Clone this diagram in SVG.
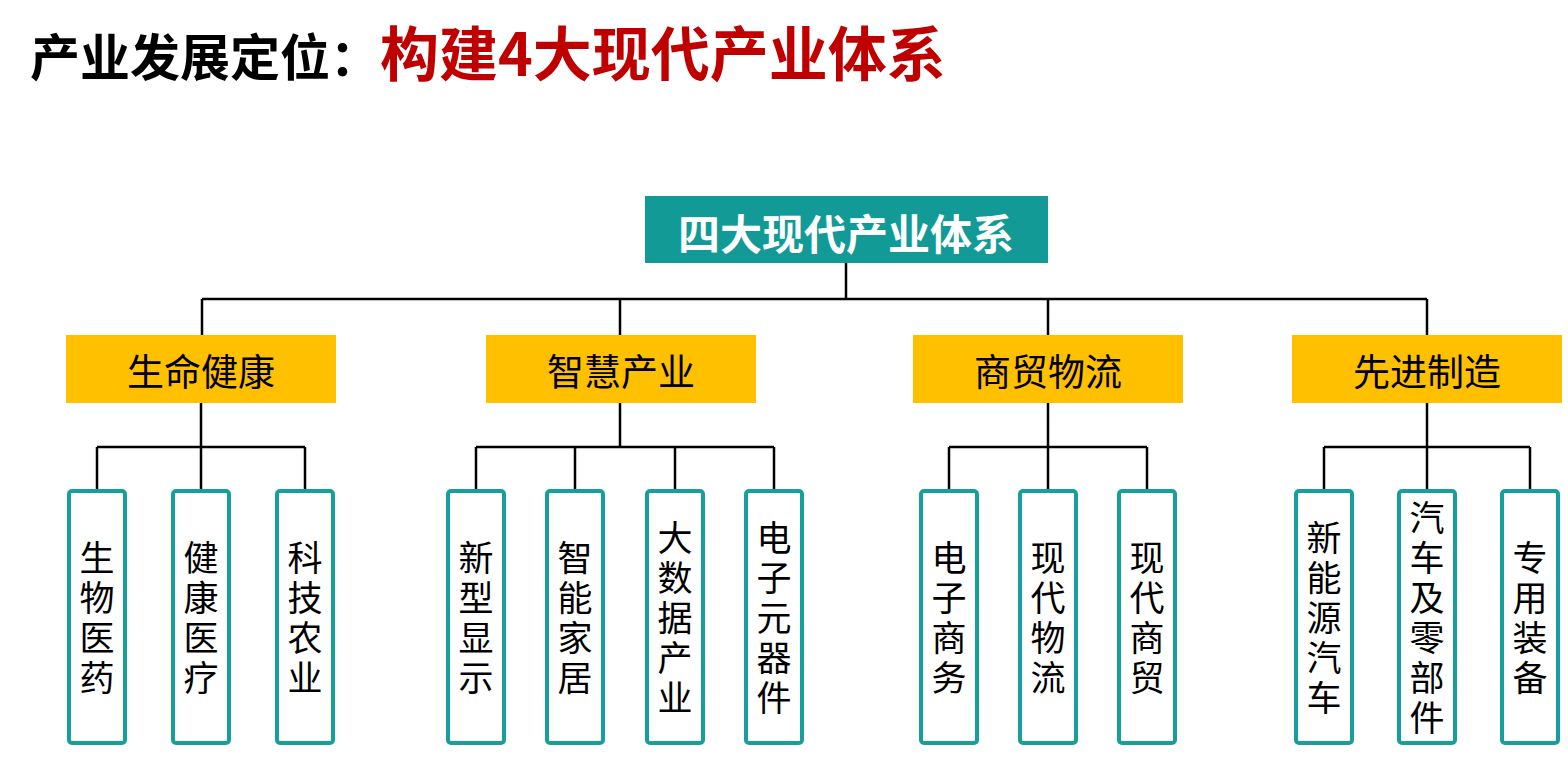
<svg xmlns="http://www.w3.org/2000/svg" width="1568" height="758" viewBox="0 0 1568 758">
<style>
.t{font-family:"Noto Sans CJK SC","Liberation Sans",sans-serif;}
.title{font-weight:700;}
.root{fill:#129A97;}
.roott{fill:#fff;font-size:42px;font-weight:700;}
.cat{fill:#FFC000;}
.catt{fill:#000;font-size:37px;}
.leaf{fill:#fff;stroke:#17A09B;stroke-width:4;}
.leaft{fill:#000;font-size:35px;writing-mode:vertical-rl;letter-spacing:5px;text-anchor:middle;}
.c{stroke:#000;stroke-width:2.5;fill:none;}
</style>
<rect width="1568" height="758" fill="#fff"/>
<text class="t title" x="30" y="76"><tspan font-size="50" fill="#000">产业发展定位：</tspan><tspan font-size="59" fill="#C00000">构建4大现代产业体系</tspan></text>

<g id="connectors">
<path class="c" d="M846 263V299M202 299H1427M202 299V335M620 299V335M1048 299V335M1427 299V335"/>
<path class="c" d="M201 403V447M97 447H305M97 447V489M201 447V489M305 447V489"/>
<path class="c" d="M620 403V447M476 447H774M476 447V489M575 447V489M675 447V489M774 447V489"/>
<path class="c" d="M1048 403V447M949 447H1147M949 447V489M1048 447V489M1147 447V489"/>
<path class="c" d="M1427 403V447M1324 447H1530M1324 447V489M1427 447V489M1530 447V489"/>
</g>

<g id="root"><rect class="root" x="645" y="196" width="403" height="67"/><text class="t roott" x="846" y="231" text-anchor="middle" dominant-baseline="central">四大现代产业体系</text></g>

<g id="cat1"><rect class="cat" x="66" y="335" width="270" height="68"/><text class="t catt" x="201" y="370" text-anchor="middle" dominant-baseline="central">生命健康</text></g>
<g id="cat2"><rect class="cat" x="486" y="335" width="270" height="68"/><text class="t catt" x="621" y="370" text-anchor="middle" dominant-baseline="central">智慧产业</text></g>
<g id="cat3"><rect class="cat" x="913" y="335" width="270" height="68"/><text class="t catt" x="1048" y="370" text-anchor="middle" dominant-baseline="central">商贸物流</text></g>
<g id="cat4"><rect class="cat" x="1292" y="335" width="270" height="68"/><text class="t catt" x="1427" y="370" text-anchor="middle" dominant-baseline="central">先进制造</text></g>

<g id="leaf1"><rect class="leaf" x="69" y="491" width="56" height="252" rx="3"/><text class="t leaft" x="97" y="620">生物医药</text></g>
<g id="leaf2"><rect class="leaf" x="173" y="491" width="56" height="252" rx="3"/><text class="t leaft" x="201" y="620">健康医疗</text></g>
<g id="leaf3"><rect class="leaf" x="277" y="491" width="56" height="252" rx="3"/><text class="t leaft" x="305" y="620">科技农业</text></g>

<g id="leaf4"><rect class="leaf" x="448" y="491" width="56" height="252" rx="3"/><text class="t leaft" x="476" y="620">新型显示</text></g>
<g id="leaf5"><rect class="leaf" x="547" y="491" width="56" height="252" rx="3"/><text class="t leaft" x="575" y="620">智能家居</text></g>
<g id="leaf6"><rect class="leaf" x="647" y="491" width="56" height="252" rx="3"/><text class="t leaft" x="675" y="620">大数据产业</text></g>
<g id="leaf7"><rect class="leaf" x="746" y="491" width="56" height="252" rx="3"/><text class="t leaft" x="774" y="620">电子元器件</text></g>

<g id="leaf8"><rect class="leaf" x="921" y="491" width="56" height="252" rx="3"/><text class="t leaft" x="949" y="620">电子商务</text></g>
<g id="leaf9"><rect class="leaf" x="1020" y="491" width="56" height="252" rx="3"/><text class="t leaft" x="1048" y="620">现代物流</text></g>
<g id="leaf10"><rect class="leaf" x="1119" y="491" width="56" height="252" rx="3"/><text class="t leaft" x="1147" y="620">现代商贸</text></g>

<g id="leaf11"><rect class="leaf" x="1296" y="491" width="56" height="252" rx="3"/><text class="t leaft" x="1324" y="620">新能源汽车</text></g>
<g id="leaf12"><rect class="leaf" x="1399" y="491" width="56" height="252" rx="3"/><text class="t leaft" x="1427" y="620">汽车及零部件</text></g>
<g id="leaf13"><rect class="leaf" x="1502" y="491" width="56" height="252" rx="3"/><text class="t leaft" x="1530" y="620">专用装备</text></g>
</svg>
